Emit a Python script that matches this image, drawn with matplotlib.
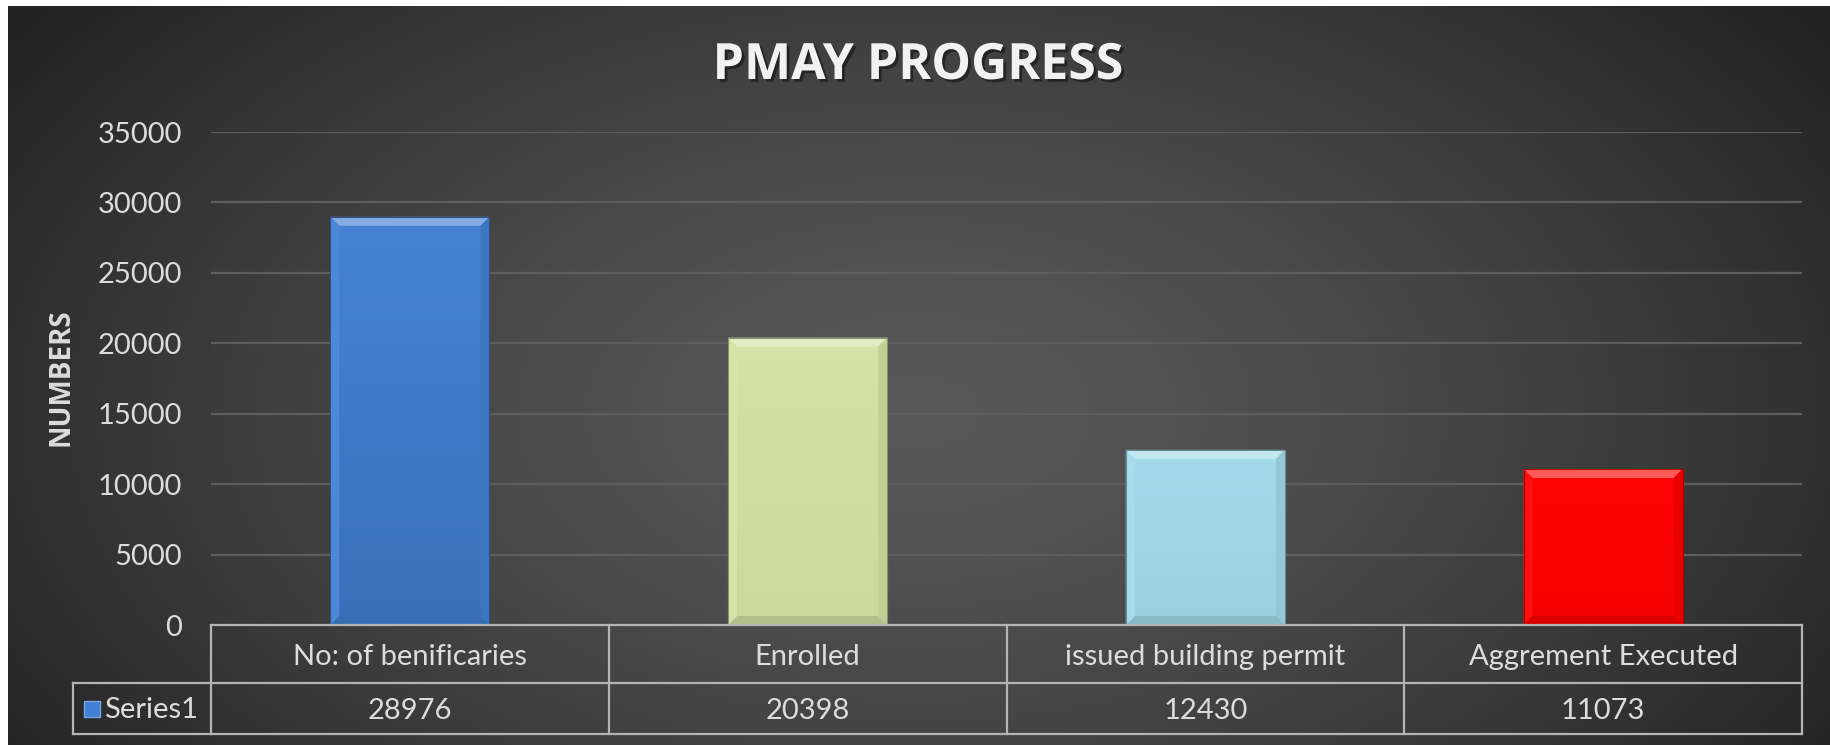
import numpy as np
import matplotlib
matplotlib.use("Agg")
import matplotlib.pyplot as plt
from matplotlib.patches import Polygon, Rectangle
from matplotlib.colors import to_rgb
import matplotlib.patheffects as pe
import matplotlib.transforms as mtransforms

categories = ["No: of benificaries", "Enrolled", "issued building permit", "Aggrement Executed"]
values = [28976, 20398, 12430, 11073]
series_name = "Series1"
bar_colors = ["#4180D2", "#D1E3A5", "#A0DAEA", "#FF0000"]
yticks = [0, 5000, 10000, 15000, 20000, 25000, 30000, 35000]
title = "PMAY PROGRESS"
ylabel = "NUMBERS"

FONT = ["Lato", "DejaVu Sans"]
TFONT = ["Open Sans", "DejaVu Sans"]
TXT = "#DCDCDC"
FS = 21
W, H = 1830, 745
fig = plt.figure(figsize=(W / 100, H / 100), dpi=100, facecolor="white")

# background with radial gradient
bg = fig.add_axes([8 / W, 0, 1 - 8 / W, 1 - 6 / H])
bg.set_axis_off()
yy, xx = np.mgrid[0:1:300j, 0:1:700j]
r = np.sqrt(((xx - 0.5) / 0.62) ** 2 + ((yy - 0.45) / 0.9) ** 2)
r = np.clip(r, 0, 1)
lum = 0.345 - (0.345 - 0.13) * r ** 1.4
img = np.dstack([lum, lum, lum])
bg.imshow(img, aspect="auto", extent=[0, 1, 0, 1], origin="lower", interpolation="bicubic")
bg.set_xlim(0, 1)
bg.set_ylim(0, 1)

x0p, x1p, y_top, y_zero = 211, 1802, 132, 625
ax = fig.add_axes([x0p / W, 1 - y_zero / H, (x1p - x0p) / W, (y_zero - y_top) / H])
ax.set_facecolor("none")
ax.set_xlim(-0.5, len(categories) - 0.5)
ax.set_ylim(0, 35000)
ax.set_yticks(yticks)
ax.set_yticklabels([str(v) for v in yticks], fontfamily=FONT, fontsize=FS, color=TXT)
ax.tick_params(axis="y", length=0, pad=21)
ax.set_xticks([])
for s in ax.spines.values():
    s.set_visible(False)
ax.yaxis.grid(True, color="#5E5E5E", linewidth=1.6)
ax.set_axisbelow(True)

# pixel → data scale
ax_h_px = y_zero - y_top
ax_w_px = x1p - x0p
dy_per_px = 35000 / ax_h_px
dx_per_px = len(categories) / ax_w_px


def shade(c, f):
    c = np.array(to_rgb(c))
    if f >= 0:
        return tuple(c + (1 - c) * f)
    return tuple(c * (1 + f))


bars = ax.bar(np.arange(len(categories)), values, width=0.4, color=bar_colors,
              edgecolor="none", zorder=2)
for i, (rect, col) in enumerate(zip(bars, bar_colors)):
    bx0 = rect.get_x()
    bw = rect.get_width()
    bh = rect.get_height()
    bx1 = bx0 + bw
    grad = np.linspace(0, 1, 100)[:, None]
    top_c = np.array(shade(col, 0.02))
    bot_c = np.array(shade(col, -0.12 if i == 0 else -0.04))
    gimg = bot_c[None, None, :] * (1 - grad[..., None]) + top_c[None, None, :] * grad[..., None]
    im = ax.imshow(gimg, extent=[bx0, bx1, 0, bh], origin="lower", aspect="auto", zorder=2.1)
    im.set_clip_path(rect)
    ex = 9 * dx_per_px
    ey = 9 * dy_per_px
    top = Polygon([(bx0, bh), (bx1, bh), (bx1 - ex, bh - ey), (bx0 + ex, bh - ey)],
                  closed=True, facecolor=shade(col, 0.35), edgecolor="none", zorder=2.2)
    bot = Polygon([(bx0, 0), (bx1, 0), (bx1 - ex, ey), (bx0 + ex, ey)],
                  closed=True, facecolor=shade(col, -0.15), edgecolor="none", zorder=2.2)
    lft = Polygon([(bx0, 0), (bx0 + ex, ey), (bx0 + ex, bh - ey), (bx0, bh)],
                  closed=True, facecolor=shade(col, 0.06), edgecolor="none", zorder=2.2)
    rgt = Polygon([(bx1, 0), (bx1 - ex, ey), (bx1 - ex, bh - ey), (bx1, bh)],
                  closed=True, facecolor=shade(col, -0.08), edgecolor="none", zorder=2.2)
    for p in (top, bot, lft, rgt):
        ax.add_patch(p)
    ax.add_patch(Rectangle((bx0, 0), bw, bh, facecolor="none",
                           edgecolor=shade(col, -0.35), linewidth=0.8, zorder=2.3))

# title
fig.text(918 / W, 1 - 66 / H, title, ha="center", va="center", fontsize=36,
         fontweight="bold", fontfamily=TFONT, color="#F2F2F2",
         path_effects=[pe.withSimplePatchShadow(offset=(2, -2), shadow_rgbFace="#111111", alpha=0.6)])

# y label
fig.text(61 / W, 1 - 377 / H, ylabel, ha="center", va="center", rotation=90,
         fontsize=20, fontweight="bold", fontfamily=TFONT, color=TXT)

# data table
trans = mtransforms.blended_transform_factory(ax.transData, ax.transAxes)
def ya(py):
    return (y_zero - py) / ax_h_px

line_c = "#B4B4B4"
lw = 1.6
r1_bot = ya(683)
r2_bot = ya(734)
n = len(categories)
ax.plot([-0.5, n - 0.5], [0, 0], transform=trans, color=line_c, lw=lw, clip_on=False, zorder=3)
leg_left = -0.5 - (211 - 73) * dx_per_px
ax.plot([leg_left, n - 0.5], [r1_bot, r1_bot], transform=trans, color=line_c, lw=lw, clip_on=False)
ax.plot([leg_left, n - 0.5], [r2_bot, r2_bot], transform=trans, color=line_c, lw=lw, clip_on=False)
for i in range(n + 1):
    ax.plot([i - 0.5, i - 0.5], [0, r2_bot], transform=trans, color=line_c, lw=lw, clip_on=False)
ax.plot([leg_left, leg_left], [r1_bot, r2_bot], transform=trans, color=line_c, lw=lw, clip_on=False)

for i, (c, v) in enumerate(zip(categories, values)):
    ax.text(i, ya(657), c, transform=trans, ha="center", va="center", fontsize=FS,
            fontfamily=FONT, color=TXT)
    ax.text(i, ya(711), str(v), transform=trans, ha="center", va="center", fontsize=FS,
            fontfamily=FONT, color=TXT)

# legend key + series name
key_w = 16 * dx_per_px
key_x = leg_left + 11 * dx_per_px
ax.add_patch(Rectangle((key_x, ya(717)), key_w, (16 / ax_h_px), transform=trans,
                       facecolor=bar_colors[0], edgecolor=shade(bar_colors[0], 0.3),
                       linewidth=1, clip_on=False))
ax.text(key_x + key_w + 4 * dx_per_px, ya(710), series_name, transform=trans, ha="left",
        va="center", fontsize=FS, fontfamily=FONT, color=TXT)

fig.savefig("out.png", dpi=100, facecolor="white")
